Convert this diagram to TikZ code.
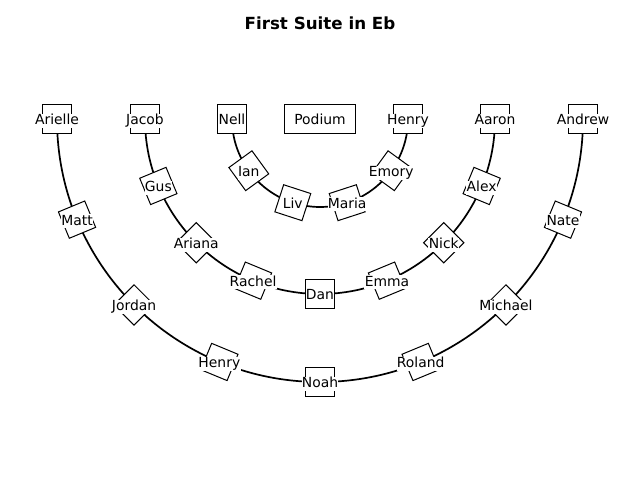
\documentclass[tikz,border=0pt]{standalone}
\usepackage{fontspec}
\setmainfont{DejaVu Sans}
\tikzset{
  seatbox/.style={rectangle, draw=black, fill=white, line width=1pt, minimum size=28.5pt, inner sep=0pt},
  seatlabel/.style={fill=white, inner sep=0.3pt, yshift=-1.8pt, font=\fontsize{13.9}{16}\selectfont, text height=10.3pt, text depth=3.1pt},
  rowarc/.style={line width=1.7pt, black},
  podiumbox/.style={rectangle, draw=black, line width=1pt, minimum width=71.5pt, minimum height=28.5pt, inner sep=0pt, font=\fontsize{13.9}{16}\selectfont},
  titlestyle/.style={font=\bfseries\fontsize{16.7}{20}\selectfont}
}
\begin{document}
\begin{tikzpicture}[x=1pt,y=1pt]
\useasboundingbox (0,0) rectangle (640,480);
\node[titlestyle] (title) at (320,457) {First Suite in Eb};
\node[podiumbox] (podium) at (320,361) {Podium};
% seat positions
\foreach \k in {0,...,5} {
  \pgfmathsetmacro\th{\k*36}
  \coordinate (a\k) at ({320+88*cos(180+\th)},{361+88*sin(180+\th)});
}
\foreach \k in {0,...,8} {
  \pgfmathsetmacro\th{\k*22.5}
  \coordinate (b\k) at ({320+175*cos(180+\th)},{361+175*sin(180+\th)});
  \coordinate (c\k) at ({320+263*cos(180+\th)},{361+263*sin(180+\th)});
}
% row arcs
\draw[rowarc] (a0) arc[start angle=180, end angle=360, radius=88];
\draw[rowarc] (b0) arc[start angle=180, end angle=360, radius=175];
\draw[rowarc] (c0) arc[start angle=180, end angle=360, radius=263];
% inner row
\foreach \n [count=\j from 0] in {Nell,Ian,Liv,Maria,Emory,Henry} {
  \pgfmathsetmacro\th{\j*36}
  \node[seatbox, rotate=\th] (abox\j) at (a\j) {};
  \node[seatlabel] (alab\j) at (a\j) {\n};
}
% middle row
\foreach \n [count=\j from 0] in {Jacob,Gus,Ariana,Rachel,Dan,Emma,Nick,Alex,Aaron} {
  \pgfmathsetmacro\th{\j*22.5}
  \node[seatbox, rotate=\th] (bbox\j) at (b\j) {};
  \node[seatlabel] (blab\j) at (b\j) {\n};
}
% outer row
\foreach \n [count=\j from 0] in {Arielle,Matt,Jordan,Henry,Noah,Roland,Michael,Nate,Andrew} {
  \pgfmathsetmacro\th{\j*22.5}
  \node[seatbox, rotate=\th] (cbox\j) at (c\j) {};
  \node[seatlabel] (clab\j) at (c\j) {\n};
}
\end{tikzpicture}
\end{document}
